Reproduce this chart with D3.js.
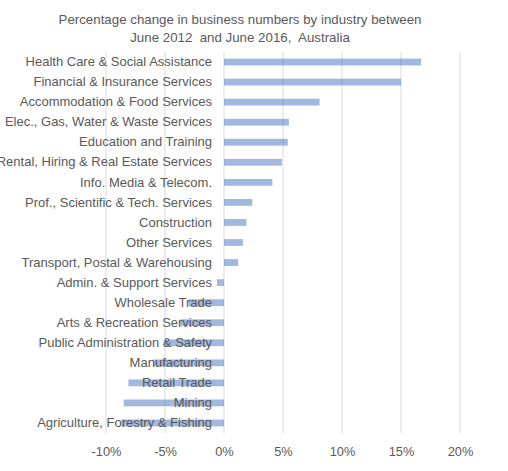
<!DOCTYPE html>
<html>
<head>
<meta charset="utf-8">
<script src="https://cdn.jsdelivr.net/npm/d3@7"></script>
<style>
  body { margin: 0; background: #fff; }
  text { font-family: "Liberation Sans", Arial, sans-serif; fill: #595959; }
</style>
</head>
<body>
<div id="chart"></div>
<script>
// data
var industries = [
    'Health Care & Social Assistance',
    'Financial & Insurance Services',
    'Accommodation & Food Services',
    'Elec., Gas, Water & Waste Services',
    'Education and Training',
    'Rental, Hiring & Real Estate Services',
    'Info. Media & Telecom.',
    'Prof., Scientific & Tech. Services',
    'Construction',
    'Other Services',
    'Transport, Postal & Warehousing',
    'Admin. & Support Services',
    'Wholesale Trade',
    'Arts & Recreation Services',
    'Public Administration & Safety',
    'Manufacturing',
    'Retail Trade',
    'Mining',
    'Agriculture, Forestry & Fishing'
];
var pctChange = [16.7, 15.0, 8.1, 5.5, 5.4, 4.9, 4.1, 2.4, 1.9, 1.6, 1.2,
    -0.6, -3.0, -3.7, -5.1, -6.0, -8.1, -8.5, -8.7];
var xTicks = [-10, -5, 0, 5, 10, 15, 20];
var titleLines = ['Percentage change in business numbers by industry between',
    'June 2012  and June 2016,  Australia'];

var W = 508, H = 471;
var margin = { top: 52, right: 48, bottom: 38, left: 106 };
var width = W - margin.left - margin.right,
    height = H - margin.top - margin.bottom;

var svg = d3.select('#chart').append('svg')
    .attr('width', W)
    .attr('height', H);

// title
svg.append('g').selectAll('text')
    .data(titleLines)
    .enter().append('text')
    .attr('x', 240)
    .attr('y', function (d, i) { return 24 + i * 18; })
    .attr('text-anchor', 'middle')
    .style('font-size', '13.3px')
    .style('white-space', 'pre')
    .text(function (d) { return d; });

var g = svg.append('g')
    .attr('transform', `translate(${margin.left},${margin.top})`);

var x = d3.scaleLinear().domain([-10, 20]).range([0, width]);
var y = d3.scaleBand().domain(industries).range([0, height]).paddingInner(0.66).paddingOuter(0.33);

// gridlines
g.append('g').selectAll('line')
    .data(xTicks)
    .enter().append('line')
    .attr('x1', function (d) { return x(d); })
    .attr('x2', function (d) { return x(d); })
    .attr('y1', 0)
    .attr('y2', height)
    .attr('stroke', '#d9d9d9')
    .attr('stroke-width', 1);

// bars
g.append('g').selectAll('rect')
    .data(pctChange)
    .enter().append('rect')
    .attr('x', function (d) { return x(Math.min(0, d)); })
    .attr('y', function (d, i) { return y(industries[i]); })
    .attr('width', function (d) { return Math.abs(x(d) - x(0)); })
    .attr('height', y.bandwidth())
    .attr('fill', '#4472c4')
    .attr('fill-opacity', 0.5);

// category labels sit next to the 0% axis and overlap the negative bars
var yAxis = g.append('g')
    .attr('transform', 'translate(' + x(0) + ',0)')
    .call(d3.axisLeft(y).tickSize(0).tickPadding(12));
yAxis.select('.domain').remove();
yAxis.selectAll('text')
    .style('font-size', '13px')
    .style('font-family', '"Liberation Sans", Arial, sans-serif')
    .attr('fill', '#595959');

// x axis labels
var xAxis = g.append('g')
    .attr('transform', 'translate(0,' + height + ')')
    .call(d3.axisBottom(x).tickValues(xTicks).tickSize(0).tickPadding(14)
        .tickFormat(function (d) { return d + '%'; }));
xAxis.select('.domain').remove();
xAxis.selectAll('text')
    .style('font-size', '12.8px')
    .style('font-family', '"Liberation Sans", Arial, sans-serif')
    .attr('fill', '#595959');
</script>
</body>
</html>
